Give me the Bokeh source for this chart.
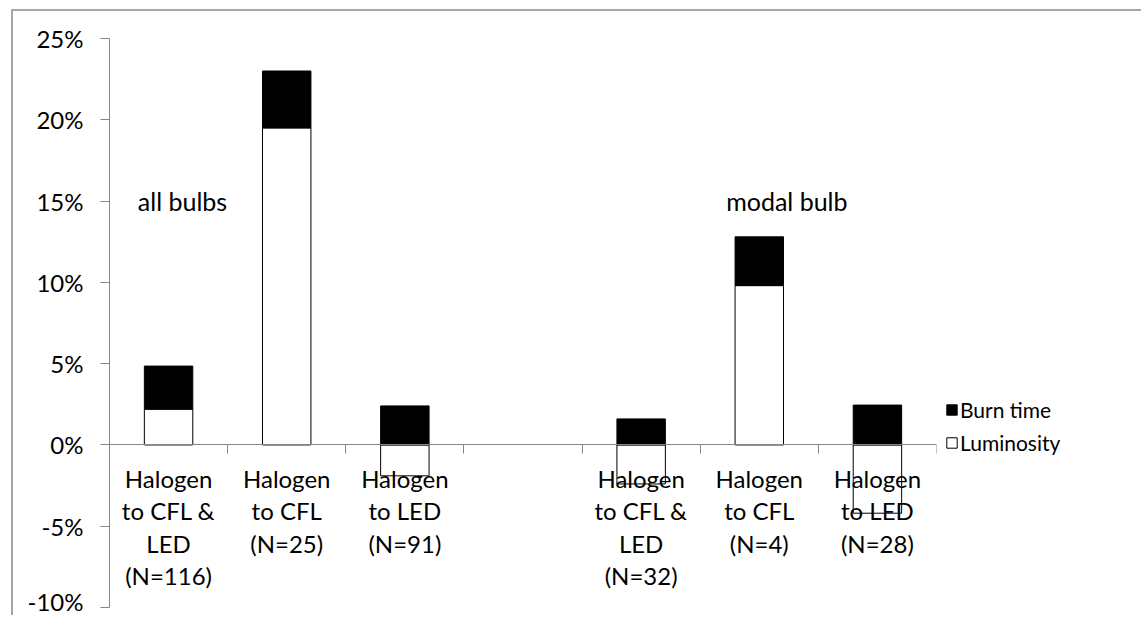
from bokeh.plotting import figure
from bokeh.models import (ColumnDataSource, Range1d, LinearAxis, FixedTicker,
                          PrintfTickFormatter, Legend, LegendItem, Label)
from bokeh.core.properties import value
from bokeh.embed import file_html
from bokeh.resources import INLINE

# ---- data (percent) ----
categories = ["Halogen\nto CFL &\nLED\n(N=116)", "Halogen\nto CFL\n(N=25)",
              "Halogen\nto LED\n(N=91)", "",
              "Halogen\nto CFL &\nLED\n(N=32)", "Halogen\nto CFL\n(N=4)",
              "Halogen\nto LED\n(N=28)"]
luminosity = [2.2, 19.5, -1.9, None, -2.4, 9.8, -4.2]
burn_time = [2.65, 3.5, 2.4, None, 1.6, 3.0, 2.45]
y_ticks = [-10, -5, 0, 5, 10, 15, 20, 25]
group_labels = ["all bulbs", "modal bulb"]

FONT = "Lato"
GRAY = "#868686"

# build source (skip the empty spacer category)
xs, lum_top, burn_bot, burn_top, labels = [], [], [], [], []
for i, (c, l, b) in enumerate(zip(categories, luminosity, burn_time)):
    if l is None:
        continue
    xs.append(i + 0.5)
    lum_top.append(l)
    base = max(l, 0)
    burn_bot.append(base)
    burn_top.append(base + b)
    labels.append(c)
src = ColumnDataSource(dict(x=xs, lum_top=lum_top, burn_bot=burn_bot,
                            burn_top=burn_top, label=labels))

p = figure(frame_width=827, frame_height=569,
           x_range=Range1d(0, len(categories)), y_range=Range1d(-10, 25),
           output_backend="svg", toolbar_location=None,
           x_axis_location=None, y_axis_location=None,
           min_border_left=96, min_border_top=27, min_border_right=180,
           min_border_bottom=8)
p.outline_line_color = None
p.xgrid.visible = False
p.ygrid.visible = False
p.background_fill_color = "white"
p.styles = {"border-left": "2px solid #a6a6a6", "border-top": "2px solid #a6a6a6",
            "margin-left": "11px", "margin-top": "9px"}

# y axis
yax = LinearAxis(ticker=FixedTicker(ticks=y_ticks),
                 formatter=PrintfTickFormatter(format="%d%%"))
yax.axis_line_color = GRAY
yax.major_tick_line_color = GRAY
yax.minor_tick_line_color = None
yax.major_tick_in = 0
yax.major_tick_out = 9
yax.major_label_standoff = 17
yax.major_label_text_font = FONT
yax.major_label_text_font_size = "24px"
yax.major_label_text_color = "black"
p.add_layout(yax, "left")

# x axis at zero with ticks at category boundaries
xax = LinearAxis(fixed_location=0,
                 ticker=FixedTicker(ticks=list(range(len(categories) + 1))))
xax.axis_line_color = GRAY
xax.major_tick_line_color = GRAY
xax.minor_tick_line_color = None
xax.major_tick_in = 0
xax.major_tick_out = 9
xax.major_label_text_alpha = 0
xax.major_label_text_font_size = "1px"
xax.major_label_standoff = 0
p.add_layout(xax, "below")

W = 0.41
lum_r = p.vbar(x="x", bottom=0, top="lum_top", width=W, source=src,
               fill_color="white", line_color="black", line_width=1)
burn_r = p.vbar(x="x", bottom="burn_bot", top="burn_top", width=W, source=src,
                fill_color="black", line_color="black", line_width=1)

# category labels below zero line
p.text(x="x", y=0, text="label", source=src, text_align="center",
       text_baseline="top", y_offset=19, text_font=value(FONT),
       text_font_size="24px", text_line_height=1.12, text_color="black")

# group labels
for txt, gx in zip(group_labels, [0.24, 5.22]):
    p.add_layout(Label(x=gx, y=15, text=txt, text_baseline="middle",
                       text_font=FONT, text_font_size="25px",
                       text_color="black"))

legend = Legend(items=[LegendItem(label="Burn time", renderers=[burn_r]),
                       LegendItem(label="Luminosity", renderers=[lum_r])],
                location=(9, 152))
legend.border_line_color = None
legend.background_fill_alpha = 0
legend.label_text_font = FONT
legend.label_text_font_size = "21px"
legend.label_text_color = "black"
legend.glyph_width = 13
legend.glyph_height = 13
legend.label_standoff = 2
legend.spacing = 8
legend.padding = 0
legend.margin = 0
p.add_layout(legend, "right")

open("out.html", "w").write(file_html(p, INLINE))
